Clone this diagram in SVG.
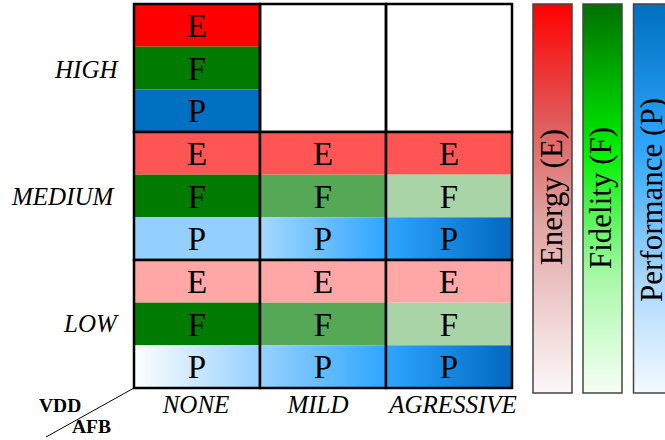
<svg xmlns="http://www.w3.org/2000/svg" width="665" height="440" viewBox="0 0 665 440">
<defs>
<linearGradient id="pMildMed" x1="0" y1="0" x2="1" y2="0"><stop offset="0" stop-color="#a6d8ff"/><stop offset="1" stop-color="#2ea6ff"/></linearGradient>
<linearGradient id="pAgr" x1="0" y1="0" x2="1" y2="0"><stop offset="0" stop-color="#2ea6ff"/><stop offset="1" stop-color="#0068c0"/></linearGradient>
<linearGradient id="pNoneLow" x1="0" y1="0" x2="1" y2="0"><stop offset="0" stop-color="#ffffff"/><stop offset="1" stop-color="#94d0ff"/></linearGradient>
<linearGradient id="pMildLow" x1="0" y1="0" x2="1" y2="0"><stop offset="0" stop-color="#98d2ff"/><stop offset="1" stop-color="#2ea6ff"/></linearGradient>
<linearGradient id="gE" x1="0" y1="0" x2="0" y2="1"><stop offset="0" stop-color="#ff0000"/><stop offset="0.3" stop-color="#e05a5a"/><stop offset="0.55" stop-color="#dea2a0"/><stop offset="0.8" stop-color="#f0d2d2"/><stop offset="1" stop-color="#fbf8f8"/></linearGradient>
<linearGradient id="gF" x1="0" y1="0" x2="0" y2="1"><stop offset="0" stop-color="#007000"/><stop offset="0.38" stop-color="#00f000"/><stop offset="0.7" stop-color="#a8f8a8"/><stop offset="1" stop-color="#f6fff6"/></linearGradient>
<linearGradient id="gP" x1="0" y1="0" x2="0" y2="1"><stop offset="0" stop-color="#0070c0"/><stop offset="0.38" stop-color="#30a8ff"/><stop offset="0.7" stop-color="#a6d6ff"/><stop offset="1" stop-color="#f4faff"/></linearGradient>
</defs>
<style>
.l{font-family:"Liberation Serif","Times New Roman",serif;font-size:33px;fill:#000;text-anchor:middle}
.ax{font-family:"Liberation Serif","Times New Roman",serif;font-size:25px;font-style:italic;fill:#000}
.b{font-family:"Liberation Serif","Times New Roman",serif;font-size:19.5px;font-weight:bold;fill:#000}
.lg{font-family:"Liberation Serif","Times New Roman",serif;font-size:31px;fill:#000;text-anchor:middle}
.cell{fill:none;stroke:#000;stroke-width:2.5}
.bar{stroke:#444;stroke-width:1.5}
</style>
<rect width="665" height="440" fill="#fff"/>

<g id="cell-high-none">
<rect x="134" y="4" width="126" height="42.67" fill="#ff0000"/>
<rect x="134" y="46.67" width="126" height="42.67" fill="#007a00"/>
<rect x="134" y="89.33" width="126" height="42.67" fill="#0070c0"/>
<text class="l" x="197" y="37">E</text><text class="l" x="197" y="79.7">F</text><text class="l" x="197" y="122.3">P</text>
<rect class="cell" x="134" y="4" width="126" height="128"/>
</g>
<g id="cell-high-mild"><rect class="cell" x="260" y="4" width="126" height="128" fill="#fff"/></g>
<g id="cell-high-agressive"><rect class="cell" x="386" y="4" width="126" height="128" fill="#fff"/></g>

<g id="cell-medium-none">
<rect x="134" y="132" width="126" height="42.67" fill="#ff5555"/>
<rect x="134" y="174.67" width="126" height="42.67" fill="#007a00"/>
<rect x="134" y="217.33" width="126" height="42.67" fill="#94d0ff"/>
<text class="l" x="197" y="165">E</text><text class="l" x="197" y="207.7">F</text><text class="l" x="197" y="250.3">P</text>
<rect class="cell" x="134" y="132" width="126" height="128"/>
</g>
<g id="cell-medium-mild">
<rect x="260" y="132" width="126" height="42.67" fill="#ff5555"/>
<rect x="260" y="174.67" width="126" height="42.67" fill="#55a855"/>
<rect x="260" y="217.33" width="126" height="42.67" fill="url(#pMildMed)"/>
<text class="l" x="323" y="165">E</text><text class="l" x="323" y="207.7">F</text><text class="l" x="323" y="250.3">P</text>
<rect class="cell" x="260" y="132" width="126" height="128"/>
</g>
<g id="cell-medium-agressive">
<rect x="386" y="132" width="126" height="42.67" fill="#ff5555"/>
<rect x="386" y="174.67" width="126" height="42.67" fill="#a8d4a8"/>
<rect x="386" y="217.33" width="126" height="42.67" fill="url(#pAgr)"/>
<text class="l" x="449" y="165">E</text><text class="l" x="449" y="207.7">F</text><text class="l" x="449" y="250.3">P</text>
<rect class="cell" x="386" y="132" width="126" height="128"/>
</g>

<g id="cell-low-none">
<rect x="134" y="260" width="126" height="42.67" fill="#ffa6a6"/>
<rect x="134" y="302.67" width="126" height="42.67" fill="#007a00"/>
<rect x="134" y="345.33" width="126" height="42.67" fill="url(#pNoneLow)"/>
<text class="l" x="197" y="293">E</text><text class="l" x="197" y="335.7">F</text><text class="l" x="197" y="378.3">P</text>
<rect class="cell" x="134" y="260" width="126" height="128"/>
</g>
<g id="cell-low-mild">
<rect x="260" y="260" width="126" height="42.67" fill="#ffa6a6"/>
<rect x="260" y="302.67" width="126" height="42.67" fill="#55a855"/>
<rect x="260" y="345.33" width="126" height="42.67" fill="url(#pMildLow)"/>
<text class="l" x="323" y="293">E</text><text class="l" x="323" y="335.7">F</text><text class="l" x="323" y="378.3">P</text>
<rect class="cell" x="260" y="260" width="126" height="128"/>
</g>
<g id="cell-low-agressive">
<rect x="386" y="260" width="126" height="42.67" fill="#ffa6a6"/>
<rect x="386" y="302.67" width="126" height="42.67" fill="#a8d4a8"/>
<rect x="386" y="345.33" width="126" height="42.67" fill="url(#pAgr)"/>
<text class="l" x="449" y="293">E</text><text class="l" x="449" y="335.7">F</text><text class="l" x="449" y="378.3">P</text>
<rect class="cell" x="386" y="260" width="126" height="128"/>
</g>

<g id="row-labels">
<text class="ax" x="55" y="78">HIGH</text>
<text class="ax" x="12" y="205">MEDIUM</text>
<text class="ax" x="64" y="332">LOW</text>
</g>
<g id="col-labels">
<text class="ax" x="196" y="413" text-anchor="middle">NONE</text>
<text class="ax" x="318" y="413" text-anchor="middle">MILD</text>
<text class="ax" x="453" y="413" text-anchor="middle">AGRESSIVE</text>
</g>

<g id="connectors">
<line x1="134" y1="388" x2="46" y2="437" stroke="#000" stroke-width="1"/>
</g>
<g id="axis-names">
<text class="b" x="39" y="412">VDD</text>
<text class="b" x="72" y="433">AFB</text>
</g>

<g id="legend-energy">
<rect class="bar" x="533" y="4" width="39" height="389" fill="url(#gE)"/>
<text class="lg" transform="translate(562,197) rotate(-90)">Energy (E)</text>
</g>
<g id="legend-fidelity">
<rect class="bar" x="583" y="4" width="39" height="389" fill="url(#gF)"/>
<text class="lg" transform="translate(611,198) rotate(-90)">Fidelity (F)</text>
</g>
<g id="legend-performance">
<rect class="bar" x="633.5" y="4" width="40" height="389" fill="url(#gP)"/>
<text class="lg" transform="translate(662,200) rotate(-90)">Performance (P)</text>
</g>
</svg>
